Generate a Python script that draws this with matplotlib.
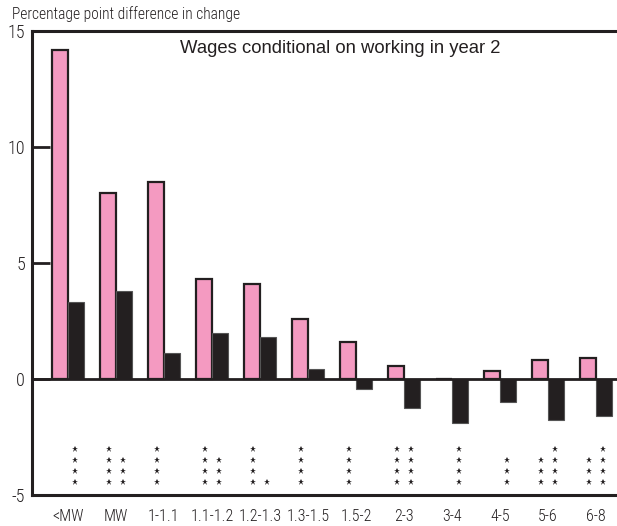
import matplotlib
matplotlib.use('Agg')
import matplotlib.pyplot as plt
import numpy as np

# Data
categories = ['<MW', 'MW', '1-1.1', '1.1-1.2', '1.2-1.3', '1.3-1.5',
              '1.5-2', '2-3', '3-4', '4-5', '5-6', '6-8']
pink_vals = [14.2, 8.0, 8.5, 4.3, 4.1, 2.6, 1.6, 0.55, 0.0, 0.33, 0.8, 0.92]
black_vals = [3.3, 3.8, 1.1, 2.0, 1.8, 0.45, -0.45, -1.25, -1.9, -1.0, -1.75, -1.6]
# significance stars under each bar (count of stacked stars)
pink_stars = [0, 4, 4, 4, 4, 4, 4, 4, 0, 0, 3, 3]
black_stars = [4, 3, 0, 3, 1, 0, 0, 4, 4, 3, 4, 4]

PINK = '#f49ac1'
DARK = '#231f20'
narrow = ['Roboto Condensed', 'Archivo Narrow', 'PT Sans Narrow', 'Open Sans Condensed',
          'Liberation Sans Narrow', 'Arimo', 'DejaVu Sans']

fig = plt.figure(figsize=(6.17, 5.26), dpi=100)
ax = fig.add_axes([32 / 617, 1 - 495 / 526, 1 - 32 / 617, 464 / 526])

x = np.arange(len(categories))
w = 1 / 3
ax.bar(x - w / 2, pink_vals, width=w, color=PINK, edgecolor=DARK, linewidth=1.6, zorder=2)
ax.bar(x + w / 2, black_vals, width=w, color=DARK, edgecolor='#555555', linewidth=0.8, zorder=2)
ax.axhline(0, color=DARK, linewidth=2, zorder=3)

# stars
star_y = [-4.45, -3.97, -3.49, -3.0]
for i in range(len(categories)):
    for k in range(pink_stars[i]):
        ax.plot(x[i] - 0.15, star_y[k], marker='*', color=DARK, markersize=4.8,
                markeredgewidth=0, linestyle='none')
    for k in range(black_stars[i]):
        ax.plot(x[i] + 0.15, star_y[k], marker='*', color=DARK, markersize=4.8,
                markeredgewidth=0, linestyle='none')

ax.set_xlim(-0.75, 11.44)
ax.set_ylim(-5, 15)
ax.set_yticks([-5, 0, 5, 10, 15])
ax.set_yticklabels(['-5', '0', '5', '10', '15'], fontfamily=narrow, fontsize=13,
                   fontweight='light')
ax.set_xticks(x)
ax.set_xticklabels(categories, fontfamily=narrow, fontsize=11.5, fontweight='light')
ax.tick_params(axis='y', direction='in', length=13, width=2, color=DARK, pad=5,
               labelcolor=DARK)
ax.tick_params(axis='x', length=0, pad=10, labelcolor=DARK)

ax.spines['right'].set_visible(False)
for s in ['left', 'top', 'bottom']:
    ax.spines[s].set_linewidth(2.2)
    ax.spines[s].set_color(DARK)

ax.text(0.526, 0.963, 'Wages conditional on working in year 2', transform=ax.transAxes,
        ha='center', va='center', fontsize=13.3, family=['Liberation Sans', 'DejaVu Sans'],
        color=DARK)
fig.text(12 / 617, 1 - 14 / 526, 'Percentage point difference in change',
         ha='left', va='center', fontsize=11.2, fontweight='light', family=narrow, color=DARK)

fig.savefig('out.png', dpi=100)
